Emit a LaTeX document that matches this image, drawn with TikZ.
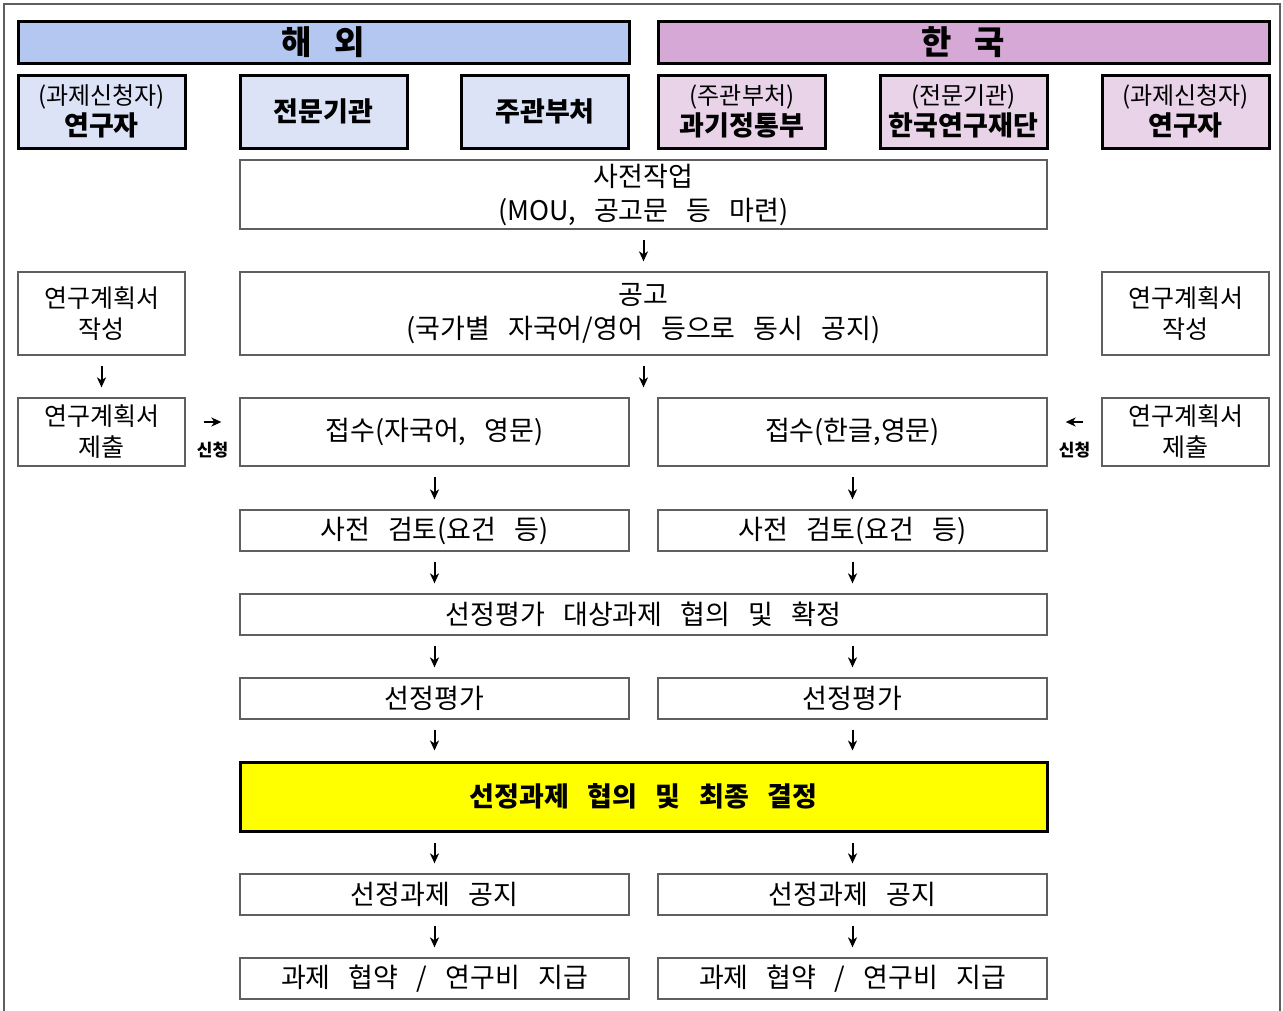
\documentclass[tikz,border=0pt]{standalone}
\usepackage{fontspec}
\setmainfont[WordSpace=3]{Noto Sans CJK KR}
\usetikzlibrary{arrows.meta}

\definecolor{abroadhead}{RGB}{180,199,240}
\definecolor{abroadcell}{RGB}{221,227,247}
\definecolor{koreahead}{RGB}{213,168,213}
\definecolor{koreacell}{RGB}{233,211,233}
\definecolor{finalfill}{RGB}{255,255,0}
\definecolor{framegray}{RGB}{95,95,95}
\newcommand{\partyname}[1]{{\fontsize{27}{31}\selectfont\bfseries #1}}

\begin{document}
\begin{tikzpicture}[x=1pt,y=-1pt,
  cell/.style={draw=framegray, line width=1.3pt, fill=white, inner sep=0pt, align=center,
    minimum height=41, font=\fontsize{27}{34}\selectfont},
  wide/.style={cell, minimum width=807},
  half/.style={cell, minimum width=389},
  side/.style={cell, minimum width=167, font=\fontsize{25}{31}\selectfont},
  head/.style={draw=black, line width=3pt, inner sep=0pt, minimum width=611, minimum height=42,
    font=\fontsize{33}{36}\selectfont\bfseries},
  party/.style={draw=black, line width=3pt, inner sep=0pt, align=center, minimum width=167,
    minimum height=73, font=\fontsize{24}{31}\selectfont},
  flow/.style={-{Stealth[length=10pt,width=9pt,inset=3pt]}, line width=2pt, shorten >=10pt, shorten <=10pt},
  apply/.style={font=\fontsize{17}{18}\selectfont\bfseries, inner sep=0pt}]
\useasboundingbox (0,0) rectangle (1283,1010);
\draw[framegray, line width=1.5pt] (4,1015) -- (4,4) -- (1280,4) -- (1280,1015);

% headers
\node[head, fill=abroadhead] (abroad) at (323.5,42) {해 외};
\node[head, fill=koreahead] (korea) at (963.5,42) {한 국};

\node[party, fill=abroadcell] (resA) at (101.5,111.5) {(과제신청자)\\\partyname{연구자}};
\node[party, fill=abroadcell] (instA) at (323.5,111.5) {\partyname{전문기관}};
\node[party, fill=abroadcell] (minA) at (545,111.5) {\partyname{주관부처}};
\node[party, fill=koreacell] (minK) at (742,111.5) {(주관부처)\\\partyname{과기정통부}};
\node[party, fill=koreacell] (instK) at (963.5,111.5) {(전문기관)\\\partyname{한국연구재단}};
\node[party, fill=koreacell] (resK) at (1185.5,111.5) {(과제신청자)\\\partyname{연구자}};

% common steps
\node[wide, minimum height=69] (prep) at (643.5,194.5) {사전작업\\(MOU, 공고문 등 마련)};
\node[wide, minimum height=83] (notice) at (643.5,313.5) {공고\\(국가별 자국어/영어 등으로 동시 공지)};
\node[side, minimum height=83] (planA) at (101.5,313.5) {연구계획서\\작성};
\node[side, minimum height=83] (planK) at (1185.5,313.5) {연구계획서\\작성};

\node[side, minimum height=68] (subA) at (101.5,432) {연구계획서\\제출};
\node[side, minimum height=68] (subK) at (1185.5,432) {연구계획서\\제출};
\node[half, minimum height=68] (recvA) at (434.5,432) {접수(자국어, 영문)};
\node[half, minimum height=68] (recvK) at (852.5,432) {접수(한글,영문)};

\node[half] (reviewA) at (434.5,530.5) {사전 검토(요건 등)};
\node[half] (reviewK) at (852.5,530.5) {사전 검토(요건 등)};
\node[wide] (target) at (643.5,614.5) {선정평가 대상과제 협의 및 확정};
\node[half] (evalA) at (434.5,698.5) {선정평가};
\node[half] (evalK) at (852.5,698.5) {선정평가};
\node[wide, draw=black, line width=3pt, fill=finalfill, minimum height=69,
  font=\fontsize{27}{34}\selectfont\bfseries] (final) at (643.5,796.5) {선정과제 협의 및 최종 결정};
\node[half] (announceA) at (434.5,894.5) {선정과제 공지};
\node[half] (announceK) at (852.5,894.5) {선정과제 공지};
\node[half] (contractA) at (434.5,978.5) {과제 협약 / 연구비 지급};
\node[half] (contractK) at (852.5,978.5) {과제 협약 / 연구비 지급};

% arrows
\draw[flow] (prep) -- (notice);
\draw[flow] (planA) -- (subA);
\draw[flow] (notice.south) -- (notice.south |- recvA.north);
\draw[flow] (recvA) -- (reviewA);
\draw[flow] (recvK) -- (reviewK);
\draw[flow] (reviewA.south) -- (reviewA.south |- target.north);
\draw[flow] (reviewK.south) -- (reviewK.south |- target.north);
\draw[flow] (target.south -| evalA) -- (evalA.north);
\draw[flow] (target.south -| evalK) -- (evalK.north);
\draw[flow] (evalA.south) -- (evalA.south |- final.north);
\draw[flow] (evalK.south) -- (evalK.south |- final.north);
\draw[flow] (final.south -| announceA) -- (announceA.north);
\draw[flow] (final.south -| announceK) -- (announceK.north);
\draw[flow] (announceA) -- (contractA);
\draw[flow] (announceK) -- (contractK);

\draw[flow, shorten >=18pt, shorten <=18pt] ([yshift=10pt]subA.east) -- node[apply, yshift=-28pt] (applyA) {신청} ([yshift=10pt]recvA.west);
\draw[flow, shorten >=18pt, shorten <=18pt] ([yshift=10pt]subK.west) -- node[apply, yshift=-28pt] (applyK) {신청} ([yshift=10pt]recvK.east);
\end{tikzpicture}
\end{document}
